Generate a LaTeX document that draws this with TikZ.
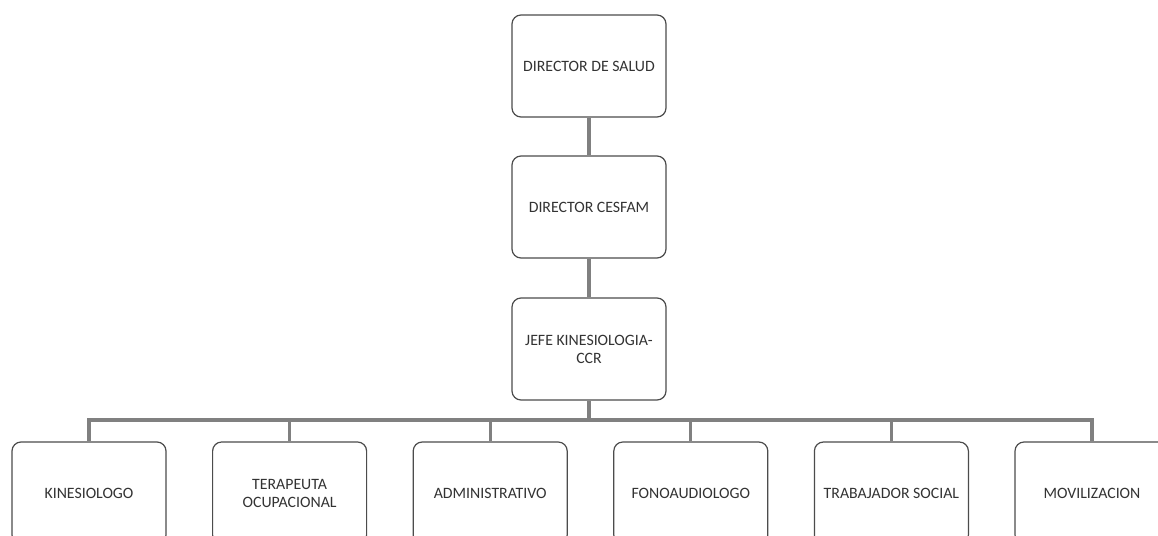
\documentclass[tikz,border=0pt]{standalone}
\usepackage{fontspec}
\setmainfont{Carlito}
\begin{document}
\begin{tikzpicture}[x=1pt,y=-1pt,
  orgbox/.style={draw=black!70, line width=1.2pt, rounded corners=9pt, fill=white,
    minimum width=154pt, minimum height=102pt, align=center, inner sep=2pt,
    font=\fontsize{15.8}{18}\selectfont, text=black!80},
  conn/.style={draw=black!50, line width=3.2pt}]
\useasboundingbox (0,0) rectangle (1158,535);
\clip (0,0) rectangle (1158,535);
\fill[white] (0,0) rectangle (1158,535);
\node[orgbox] (ds) at (589,66) {DIRECTOR DE SALUD};
\node[orgbox] (dc) at (589,207) {DIRECTOR CESFAM};
\node[orgbox] (jk) at (589,349) {JEFE KINESIOLOGIA-\\CCR};
\coordinate (bus) at (589,420);
\node[orgbox] (c1) at (89,493) {KINESIOLOGO};
\node[orgbox] (c2) at (289.6,493) {TERAPEUTA\\OCUPACIONAL};
\node[orgbox] (c3) at (490.2,493) {ADMINISTRATIVO};
\node[orgbox] (c4) at (690.8,493) {FONOAUDIOLOGO};
\node[orgbox] (c5) at (891.4,493) {TRABAJADOR SOCIAL};
\node[orgbox] (c6) at (1092,493) {MOVILIZACION};
\draw[conn] (ds.south) -- (dc.north);
\draw[conn] (dc.south) -- (jk.north);
\draw[conn] (jk.south) -- (bus);
\foreach \c in {c1,c2,c3,c4,c5,c6} {\draw[conn] (\c.north) |- (bus);}
\end{tikzpicture}
\end{document}
